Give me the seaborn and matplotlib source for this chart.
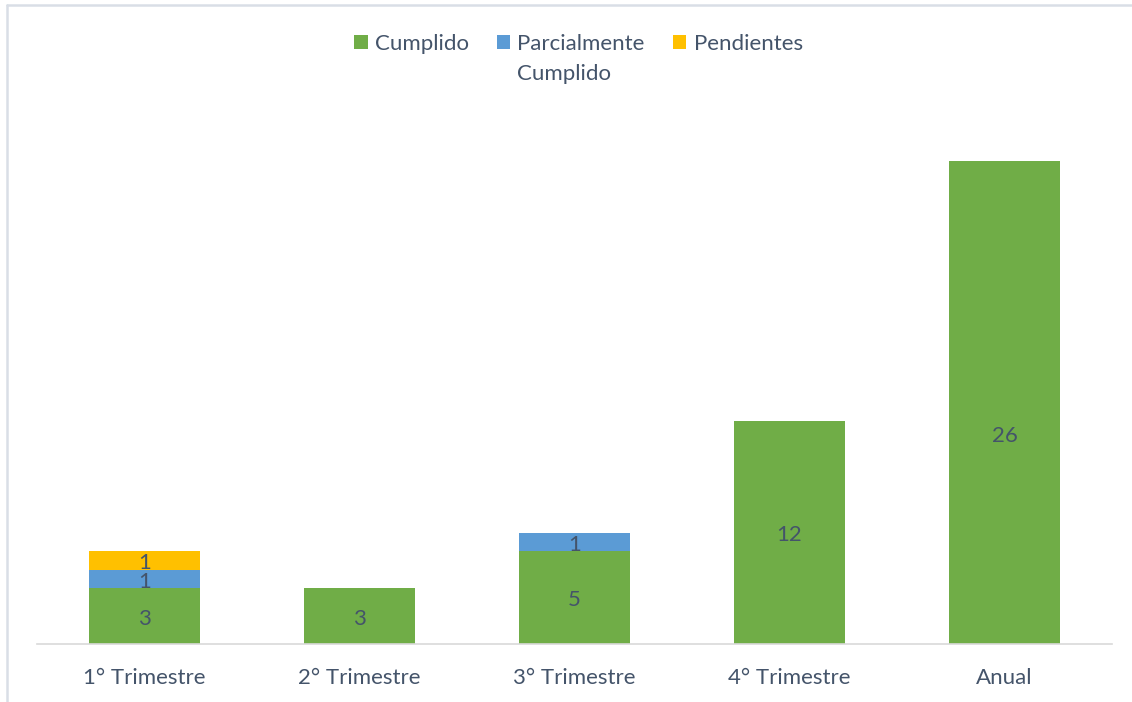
import matplotlib
matplotlib.use("Agg")
import matplotlib.pyplot as plt
import seaborn as sns
import numpy as np
from matplotlib.lines import Line2D
from matplotlib.patches import Patch

categories = ["1° Trimestre", "2° Trimestre", "3° Trimestre", "4° Trimestre", "Anual"]
cumplido = [3, 3, 5, 12, 26]
parcial = [1, 0, 1, 0, 0]
pendientes = [1, 0, 0, 0, 0]
series_names = ["Cumplido", "Parcialmente", "Pendientes"]
legend_second_line = "Cumplido"
colors = ["#70AD47", "#5B9BD5", "#FFC000"]
text_color = "#44546A"
# relative vertical position of the data label inside each Cumplido segment
label_frac = [0.5, 0.5, 0.5, 0.5, 0.437]

sns.set_theme(style="white")
plt.rcParams["font.family"] = ["Lato", "DejaVu Sans"]

W, H = 1132, 702
fig = plt.figure(figsize=(W/100, H/100), dpi=100)
ax = fig.add_axes([37/W, 58/H, 1075/W, (644-87)/H])

bottom = np.zeros(len(categories))
handles = []
for si, (vals, name, col) in enumerate(zip([cumplido, parcial, pendientes], series_names, colors)):
    vals = np.array(vals, dtype=float)
    n_before = len(ax.patches)
    sns.barplot(x=categories, y=vals, bottom=bottom, color=col, width=0.516,
                ax=ax, saturation=1, linewidth=0)
    bars = ax.patches[n_before:]
    for i, (b, v, bt) in enumerate(zip(bars, vals, bottom)):
        if v > 0:
            frac = label_frac[i] if si == 0 else 0.5
            ax.annotate(str(int(v)), (b.get_x() + b.get_width()/2, bt + v*frac),
                        xytext=(0, -2), textcoords="offset points", ha="center",
                        va="center", fontsize=16, color=text_color)
    bottom = bottom + vals
    handles.append(Patch(facecolor=col, edgecolor="none", label=name))

ax.set_xlim(-0.5, 4.5)
ax.set_ylim(0, 30)
ax.set_yticks([])
for s in ["left", "right", "top"]:
    ax.spines[s].set_visible(False)
ax.spines["bottom"].set_color("#D9D9D9")
ax.spines["bottom"].set_linewidth(1.2)
ax.tick_params(axis="x", length=0, pad=17, labelsize=16, labelcolor=text_color)
ax.set_xlabel("")
ax.set_ylabel("")

leg = fig.legend(handles=handles, loc="center", bbox_to_anchor=(578.5/W, 1-44/H), ncol=3,
                 frameon=False, fontsize=16, labelcolor=text_color, handlelength=0.6,
                 handleheight=0.6, handletextpad=0.32, columnspacing=1.27, borderpad=0)

fig.canvas.draw()
t = leg.get_texts()[1]
bb = t.get_window_extent()
fig.text(bb.x0 / W, (bb.y0 + bb.height/2 - 30) / H, legend_second_line, ha="left", va="center",
         fontsize=16, color=text_color)

# chart border (partially visible)
fig.add_artist(Line2D([7/W, 1.0], [1-5/H, 1-5/H], transform=fig.transFigure,
                      color="#D9DEE6", lw=1.8))
fig.add_artist(Line2D([7/W, 7/W], [0, 1-5/H], transform=fig.transFigure,
                      color="#D9DEE6", lw=1.8))

fig.savefig("out.png", dpi=100, facecolor="white")
